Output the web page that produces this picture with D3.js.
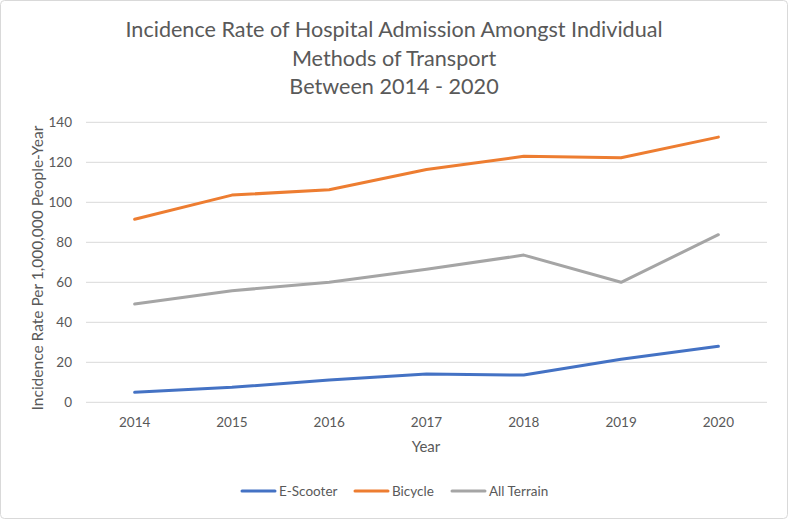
<!DOCTYPE html>
<html><head><meta charset="utf-8">
<script src="https://cdn.jsdelivr.net/npm/d3@7/dist/d3.min.js"></script>
<style>body{margin:0;background:#fff;} svg{display:block;font-family:Lato,"Open Sans",sans-serif;}</style>
</head><body><svg id="c" width="788" height="519"></svg>
<script>
const years = ["2014","2015","2016","2017","2018","2019","2020"];
const eScooter = [5.0, 7.5, 11.1, 14.1, 13.6, 21.5, 28.0];
const bicycle = [91.5, 103.6, 106.3, 116.4, 123.0, 122.3, 132.6];
const allTerrain = [49.1, 55.8, 60.0, 66.5, 73.6, 60.0, 83.8];
const seriesNames = ["E-Scooter", "Bicycle", "All Terrain"];
const seriesColors = ["#4472C4", "#ED7D31", "#A5A5A5"];
const yTicks = [0,20,40,60,80,100,120,140];
const titleLines = ["Incidence Rate of Hospital Admission Amongst Individual","Methods of Transport","Between 2014 - 2020"];

const series = [eScooter, bicycle, allTerrain];
const svg = d3.select("#c");
svg.append("rect").attr("x",0.5).attr("y",0.5).attr("width",787).attr("height",518).attr("rx",4)
  .attr("fill","#fff").attr("stroke","#d9d9d9");

const L=86, R=767, T=122.3, B=402.3;
const x = d3.scaleBand().domain(years).range([L,R]);
const y = d3.scaleLinear().domain([0,140]).range([B,T]);
const gray="#595959";

svg.append("g").selectAll("line").data(yTicks).join("line")
  .attr("x1",L).attr("x2",R).attr("y1",d=>y(d)).attr("y2",d=>y(d))
  .attr("stroke","#d9d9d9").attr("stroke-width",1);

const yAxis = svg.append("g").attr("transform",`translate(${L},0)`)
  .call(d3.axisLeft(y).tickValues(yTicks).tickSize(0).tickPadding(14));
yAxis.select(".domain").remove();
yAxis.selectAll("text").attr("fill",gray).attr("font-size",13.5).attr("font-family","Lato,'Open Sans',sans-serif");

const xAxis = svg.append("g").attr("transform",`translate(0,${B})`)
  .call(d3.axisBottom(x).tickSize(0).tickPadding(15));
xAxis.select(".domain").remove();
xAxis.selectAll("text").attr("fill",gray).attr("font-size",13.5).attr("font-family","Lato,'Open Sans',sans-serif");

const line = d3.line().x((d,i)=>x(years[i])+x.bandwidth()/2).y(d=>y(d));
series.forEach((s,k)=>{
  svg.append("path").datum(s).attr("d",line).attr("fill","none")
    .attr("stroke",seriesColors[k]).attr("stroke-width",3).attr("stroke-linejoin","round").attr("stroke-linecap","round");
});

const tt = svg.append("text").attr("text-anchor","middle").attr("fill",gray).attr("font-size",21.6);
titleLines.forEach((t,i)=>tt.append("tspan").attr("x",394).attr("y",37+i*28.5).text(t));

svg.append("text").attr("x",426).attr("y",452).attr("text-anchor","middle").attr("fill",gray).attr("font-size",15).text("Year");
svg.append("text").attr("transform","translate(43,268) rotate(-90)").attr("text-anchor","middle").attr("fill",gray).attr("font-size",15.5).text("Incidence Rate Per 1,000,000 People-Year");

const legX=[242,355,452];
const lg = svg.append("g");
seriesNames.forEach((n,k)=>{
  lg.append("line").attr("x1",legX[k]).attr("x2",legX[k]+33).attr("y1",491).attr("y2",491)
    .attr("stroke",seriesColors[k]).attr("stroke-width",3).attr("stroke-linecap","round");
  lg.append("text").attr("x",legX[k]+37).attr("y",496).attr("fill",gray).attr("font-size",13.5).text(n);
});
</script></body></html>
